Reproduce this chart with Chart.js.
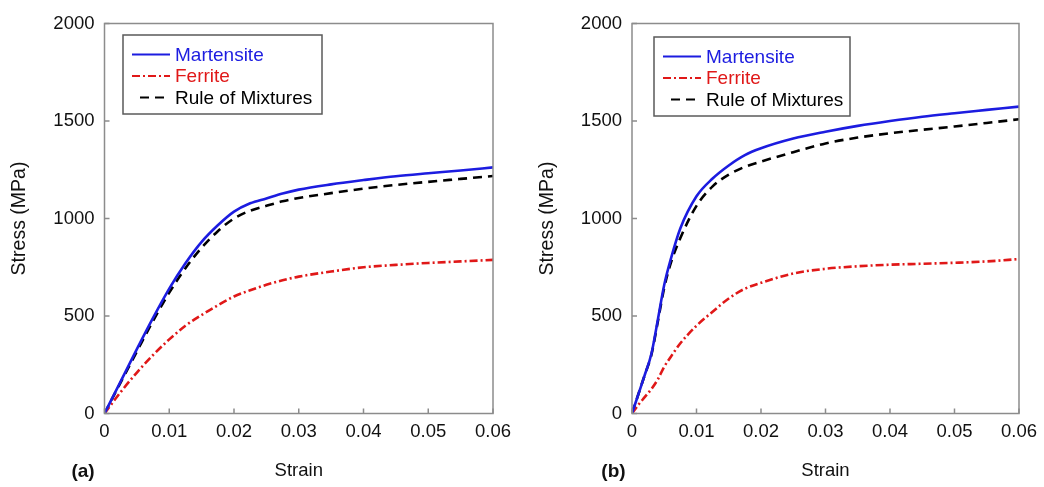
<!DOCTYPE html>
<html>
<head>
<meta charset="utf-8">
<script src="https://cdn.jsdelivr.net/npm/chart.js@4.4.1/dist/chart.umd.min.js"></script>
<style>
  html, body { margin: 0; padding: 0; background: #fff; }
  #wrap { position: relative; width: 1044px; height: 487px; }
  canvas { position: absolute; top: 0; }
  #panelA { left: 0; }
  #panelB { left: 522px; }
</style>
</head>
<body>
<div id="wrap">
  <canvas id="panelA" width="522" height="487"></canvas>
  <canvas id="panelB" width="522" height="487"></canvas>
</div>
<script>
// axes
const xTicks = [0, 0.01, 0.02, 0.03, 0.04, 0.05, 0.06];
const xTickLabels = ["0", "0.01", "0.02", "0.03", "0.04", "0.05", "0.06"];
const yTicks = [0, 500, 1000, 1500, 2000];
const yTickLabels = ["0", "500", "1000", "1500", "2000"];
const seriesNames = ["Martensite", "Ferrite", "Rule of Mixtures"];

// panel (a)
const strainA = [0, 0.0025, 0.005, 0.0075, 0.01, 0.0125, 0.015, 0.0175, 0.02, 0.0225,
  0.025, 0.0275, 0.03, 0.035, 0.04, 0.045, 0.05, 0.055, 0.06];
const martensiteA = [0, 165, 330, 490, 640, 770, 880, 965, 1035, 1078,
  1103, 1128, 1148, 1175, 1197, 1217, 1232, 1246, 1262];
const ferriteA = [0, 110, 210, 300, 380, 450, 505, 555, 600, 632,
  660, 683, 702, 728, 750, 762, 772, 780, 788];
const mixturesA = [0, 160, 318, 475, 620, 745, 850, 935, 1000, 1040,
  1065, 1088, 1105, 1130, 1153, 1172, 1188, 1203, 1218];

// panel (b)
const strainB = [0, 0.001, 0.002, 0.003, 0.004, 0.005, 0.006, 0.0075, 0.01, 0.0125,
  0.015, 0.0175, 0.02, 0.025, 0.03, 0.035, 0.04, 0.045, 0.05, 0.055, 0.06];
const martensiteB = [0, 100, 200, 305, 480, 660, 790, 950, 1114, 1205,
  1272, 1325, 1360, 1410, 1445, 1475, 1500, 1522, 1540, 1557, 1574];
const ferriteB = [0, 45, 85, 125, 175, 240, 290, 360, 450, 522,
  590, 640, 670, 718, 742, 755, 763, 768, 773, 780, 792];
const mixturesB = [0, 100, 200, 300, 470, 645, 770, 900, 1065, 1165,
  1225, 1265, 1292, 1340, 1385, 1415, 1437, 1455, 1472, 1490, 1509];

const FONT = "'Liberation Sans', Arial, Helvetica, sans-serif";
const BLUE = "#1c1ce0";
const RED = "#e01818";
const BLACK = "#000000";

const styles = [
  { color: BLUE, dash: [] },
  { color: RED, dash: [8, 3, 2, 3] },
  { color: BLACK, dash: [9, 6] },
];

function pts(xs, ys) {
  return xs.map((x, i) => ({ x, y: ys[i] }));
}

// frame, inward tick marks, boxed legend and panel letter
const framePlugin = {
  id: "frame",
  afterDatasetsDraw(chart, args, opts) {
    const { ctx, chartArea: a, scales } = chart;
    ctx.save();
    ctx.strokeStyle = "#8c8c8c";
    ctx.lineWidth = 1.5;
    ctx.setLineDash([]);
    ctx.strokeRect(a.left, a.top, a.right - a.left, a.bottom - a.top);

    ctx.beginPath();
    xTicks.forEach((v) => {
      const px = scales.x.getPixelForValue(v);
      ctx.moveTo(px, a.bottom);
      ctx.lineTo(px, a.bottom - 5);
    });
    yTicks.forEach((v) => {
      const py = scales.y.getPixelForValue(v);
      ctx.moveTo(a.left, py);
      ctx.lineTo(a.left + 5, py);
    });
    ctx.stroke();

    // legend
    const bx = a.left + opts.legendX;
    const by = opts.legendY;
    ctx.fillStyle = "#fff";
    ctx.fillRect(bx, by, opts.legendW, 79);
    ctx.strokeStyle = "#5a5a5a";
    ctx.lineWidth = 1.5;
    ctx.strokeRect(bx, by, opts.legendW, 79);

    ctx.font = "19px " + FONT;
    ctx.textBaseline = "middle";
    ctx.textAlign = "left";
    seriesNames.forEach((name, i) => {
      const ly = by + 19.5 + i * 21.5;
      const st = styles[i];
      ctx.strokeStyle = st.color;
      ctx.lineWidth = 2.2;
      ctx.setLineDash(st.dash);
      ctx.beginPath();
      ctx.moveTo(bx + (i === 2 ? 17 : 9), ly);
      ctx.lineTo(bx + 47, ly);
      ctx.stroke();
      ctx.fillStyle = st.color;
      ctx.fillText(name, bx + 52, ly + 1);
    });

    ctx.setLineDash([]);
    ctx.fillStyle = "#111";
    ctx.font = "bold 19px " + FONT;
    ctx.textAlign = "center";
    ctx.fillText(opts.label, opts.labelX, 472);
    ctx.restore();
  },
};

function makeChart(el, strain, mart, ferr, mix, cfg) {
  const data = [mart, ferr, mix];
  return new Chart(el, {
    type: "scatter",
    data: {
      datasets: seriesNames.map((name, i) => ({
        label: name,
        data: pts(strain, data[i]),
        showLine: true,
        borderColor: styles[i].color,
        borderDash: styles[i].dash,
        borderWidth: 2.6,
        pointRadius: 0,
        cubicInterpolationMode: "monotone",
        fill: false,
      })),
    },
    options: {
      responsive: false,
      animation: false,
      layout: { padding: { left: cfg.padLeft, right: cfg.padRight, top: 23.5, bottom: 0 } },
      plugins: {
        legend: { display: false },
        tooltip: { enabled: false },
        frame: cfg.frame,
      },
      scales: {
        x: {
          type: "linear",
          min: 0,
          max: 0.06,
          afterBuildTicks: (s) => { s.ticks = xTicks.map((v) => ({ value: v })); },
          afterFit: (s) => { s.height = 73.5; },
          ticks: {
            callback: (v, i) => xTickLabels[i],
            font: { size: 18.5, family: FONT },
            color: "#111",
            padding: 7,
            maxRotation: 0,
            autoSkip: false,
          },
          grid: { display: false, drawTicks: false },
          border: { display: false },
          title: {
            display: true,
            text: "Strain",
            font: { size: 18.5, family: FONT },
            color: "#111",
            padding: { top: 0, bottom: 4.5 },
          },
        },
        y: {
          type: "linear",
          min: 0,
          max: 2000,
          afterBuildTicks: (s) => { s.ticks = yTicks.map((v) => ({ value: v })); },
          afterFit: (s) => { s.width = 104.5; },
          ticks: {
            callback: (v, i) => yTickLabels[i],
            font: { size: 18.5, family: FONT },
            color: "#111",
            padding: 10,
            autoSkip: false,
          },
          grid: { display: false, drawTicks: false },
          border: { display: false },
          title: {
            display: true,
            text: "Stress (MPa)",
            font: { size: 19.5, family: FONT },
            color: "#111",
            padding: { top: 8, bottom: 0 },
          },
        },
      },
    },
    plugins: [framePlugin],
  });
}

makeChart(document.getElementById("panelA"), strainA, martensiteA, ferriteA, mixturesA, {
  padLeft: 0,
  padRight: 29,
  frame: { legendX: 18.5, legendY: 35, legendW: 199, label: "(a)", labelX: 83 },
});

makeChart(document.getElementById("panelB"), strainB, martensiteB, ferriteB, mixturesB, {
  padLeft: 5.5,
  padRight: 25,
  frame: { legendX: 22, legendY: 37, legendW: 196, label: "(b)", labelX: 91.5 },
});
</script>
</body>
</html>
